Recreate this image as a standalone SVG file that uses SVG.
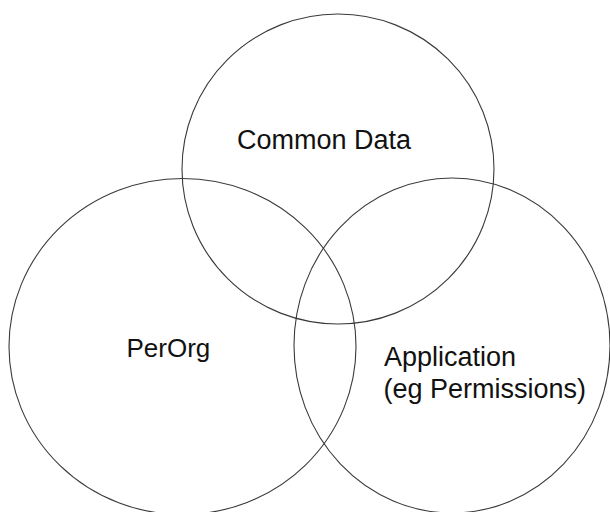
<svg xmlns="http://www.w3.org/2000/svg" width="610" height="512" viewBox="0 0 610 512">
<style>
.c{fill:none;stroke:#3a3a3a;stroke-width:1.1}
.t{font-family:"Liberation Sans",Arial,sans-serif;font-size:27px;fill:#111}
</style>
<rect width="610" height="512" fill="#fff"/>
<g id="common">
<ellipse class="c" cx="338" cy="169" rx="156" ry="155"/>
<text class="t" x="237" y="149">Common Data</text>
</g>
<g id="perorg">
<ellipse class="c" cx="182.5" cy="346.5" rx="173.5" ry="168"/>
<text class="t" x="126.5" y="357" style="font-size:26px">PerOrg</text>
</g>
<g id="application">
<ellipse class="c" cx="452" cy="345.5" rx="158" ry="167.5"/>
<text class="t" x="384" y="366">Application</text>
<text class="t" x="383.5" y="398">(eg Permissions)</text>
</g>
<g id="connectors"></g>
</svg>
